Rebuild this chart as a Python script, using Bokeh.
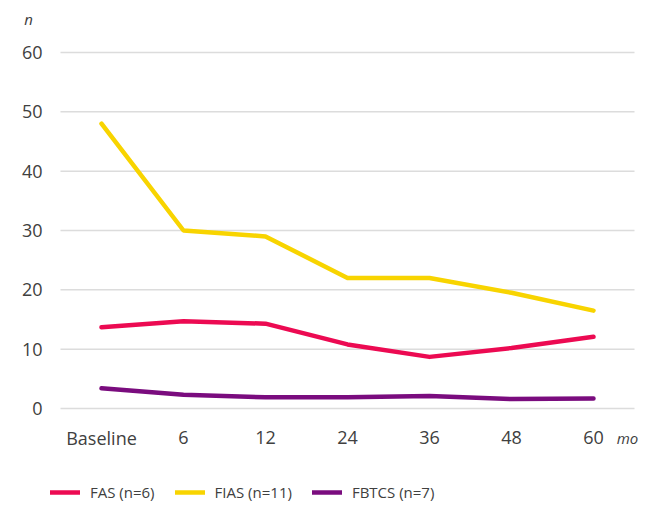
from bokeh.plotting import figure
from bokeh.models import Legend, LegendItem, Label, Range1d
from bokeh.core.properties import value
from bokeh.embed import file_html
from bokeh.resources import INLINE

months = ["Baseline", "6", "12", "24", "36", "48", "60"]
fas = [13.7, 14.7, 14.3, 10.8, 8.7, 10.2, 12.1]
fias = [48.0, 30.0, 29.0, 22.0, 22.0, 19.5, 16.5]
fbtcs = [3.4, 2.3, 1.9, 1.9, 2.1, 1.6, 1.7]
y_ticks = [0, 10, 20, 30, 40, 50, 60]
y_tick_labels = ["0", "10", "20", "30", "40", "50", "60"]
series_names = ["FAS (n=6)", "FIAS (n=11)", "FBTCS (n=7)"]
colors = ["#EC0A52", "#F8D400", "#7A0C7E"]
x_unit_label = "mo"
y_unit_label = "n"

FONT = "Open Sans"
TXT = "#404040"

W, H = 641, 502
LEFT, BAND = 60.0, 82.0            # plot-area left edge (px), category band width (px)
ZERO_Y, TOP_Y = 408.0, 52.0        # pixel rows of 0 and 60
PPU = (ZERO_Y - TOP_Y) / 60.0

xs = [i + 0.5 for i in range(len(months))]

p = figure(x_range=Range1d(-LEFT / BAND, (W - LEFT) / BAND),
           y_range=Range1d(-(H - ZERO_Y) / PPU, ZERO_Y / PPU),
           width=W, height=H, output_backend="svg", toolbar_location=None,
           min_border=0)
p.outline_line_color = None
p.axis.visible = False
p.grid.visible = False

# horizontal grid lines across the category bands
p.segment(x0=0, x1=len(months), y0=y_ticks, y1=y_ticks, line_color="#dcdcdc", line_width=1.5)

# y tick labels
p.text(x=0, y=y_ticks, text=y_tick_labels, x_offset=-18, text_align="right", text_baseline="middle",
       text_font=value(FONT), text_font_size="18px", text_color=TXT)
# x tick labels
p.text(x=xs, y=0, text=months, y_offset=29, text_align="center", text_baseline="middle",
       text_font=value(FONT), text_font_size="18px", text_color=TXT)

renderers = []
for vals, c in zip([fas, fias, fbtcs], colors):
    r = p.line(xs, vals, line_color=c, line_width=4.5, line_join="round", line_cap="round")
    renderers.append(r)

legend = Legend(items=[LegendItem(label=n, renderers=[r]) for n, r in zip(series_names, renderers)],
                orientation="horizontal", location=(50, 0),
                glyph_width=30, glyph_height=20, label_height=20, label_standoff=10, spacing=20,
                padding=0, margin=0, border_line_color=None, background_fill_alpha=0,
                label_text_font=FONT, label_text_font_size="15px", label_text_color=TXT)
p.add_layout(legend, "center")

p.add_layout(Label(x=(28 - LEFT) / BAND, y=60, y_offset=34, text=y_unit_label, text_font=FONT,
                   text_font_style="italic", text_font_size="15px", text_color=TXT,
                   text_align="center", text_baseline="middle"))
p.add_layout(Label(x=(627 - LEFT) / BAND, y=0, y_offset=-29, text=x_unit_label, text_font=FONT,
                   text_font_style="italic", text_font_size="15px", text_color=TXT,
                   text_align="center", text_baseline="middle"))

open("out.html", "w").write(file_html(p, INLINE))
